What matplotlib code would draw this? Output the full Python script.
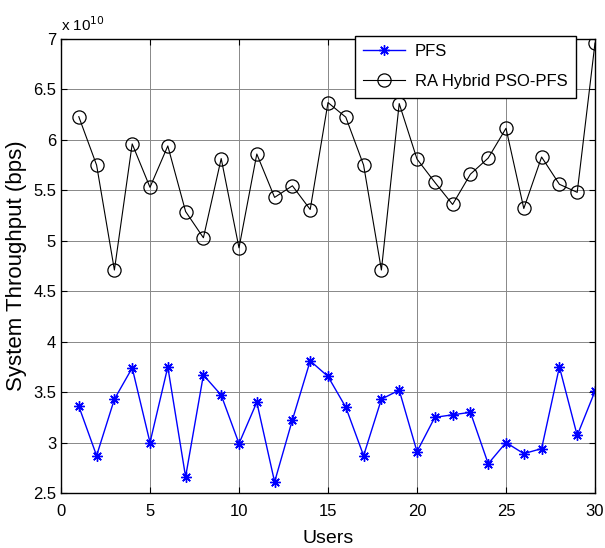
import matplotlib
matplotlib.use("Agg")
import matplotlib.pyplot as plt
import numpy as np

plt.rcParams['font.family'] = ['Liberation Sans', 'DejaVu Sans']

users = list(range(1, 31))
# values in units of 1e10 bps
pfs = [3.36, 2.87, 3.43, 3.74, 3.00, 3.75, 2.66, 3.67, 3.47, 2.99,
       3.40, 2.61, 3.225, 3.81, 3.655, 3.35, 2.87, 3.43, 3.52, 2.91,
       3.25, 3.275, 3.30, 2.79, 3.00, 2.89, 2.94, 3.75, 3.07, 3.51]
hybrid = [6.23, 5.75, 4.71, 5.96, 5.53, 5.94, 5.29, 5.03, 5.815, 4.93,
          5.86, 5.43, 5.545, 5.31, 6.37, 6.225, 5.75, 4.71, 6.36, 5.81,
          5.58, 5.36, 5.66, 5.82, 6.115, 5.32, 5.83, 5.56, 5.48, 6.96]
xticks = [0, 5, 10, 15, 20, 25, 30]
yticks = [2.5, 3, 3.5, 4, 4.5, 5, 5.5, 6, 6.5, 7]
ytick_labels = ['2.5', '3', '3.5', '4', '4.5', '5', '5.5', '6', '6.5', '7']

fig = plt.figure(figsize=(6.05, 5.48), dpi=100)
ax = fig.add_axes([61/605, 1-493/548, (595-61)/605, (493-39)/548])

ax.plot(users, pfs, color='#0000ff', lw=1.0, marker=(8, 2, 0), ms=7.5,
        mew=1.0, label='PFS')
ax.plot(users, hybrid, color='black', lw=0.8, marker='o', ms=9.5,
        mfc='none', mec='black', mew=0.9, label='RA Hybrid PSO-PFS')

ax.set_xlim(0, 30)
ax.set_ylim(2.5, 7)
ax.set_xticks(xticks)
ax.set_yticks(yticks)
ax.set_yticklabels(ytick_labels)
ax.grid(True, color='#888888', lw=0.7, ls='-')
ax.tick_params(direction='in', top=True, right=True, labelsize=12, length=4)
ax.tick_params(axis='x', pad=8)
for s in ax.spines.values():
    s.set_linewidth(1.0)

ax.set_xlabel('Users', fontsize=14, labelpad=8)
ax.set_ylabel('System Throughput (bps)', fontsize=16, labelpad=4)
ax.text(0.0, 1.012, r'x 10$^{10}$', transform=ax.transAxes, fontsize=11,
        ha='left', va='bottom')

leg = ax.legend(loc='upper right', fontsize=12, fancybox=False, framealpha=1,
                edgecolor='black', borderaxespad=0.0, handlelength=2.5,
                labelspacing=0.9, borderpad=0.5, handletextpad=0.6,
                bbox_to_anchor=(576/605, 1-36/548),
                bbox_transform=fig.transFigure)
leg.get_frame().set_linewidth(1.0)

fig.savefig('out.png', dpi=100)
